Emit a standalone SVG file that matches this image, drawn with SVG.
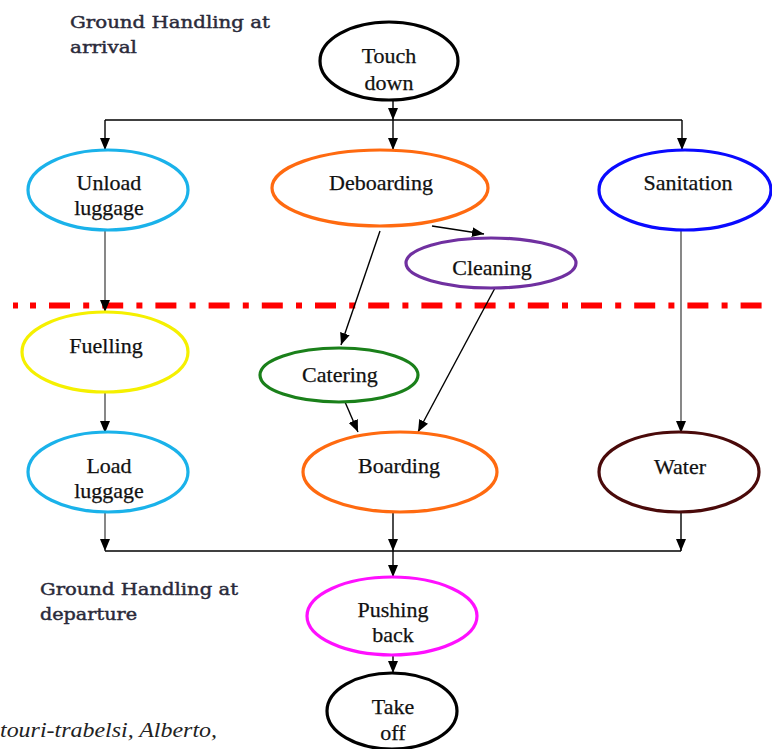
<svg xmlns="http://www.w3.org/2000/svg" width="772" height="749" viewBox="0 0 772 749">
<defs>
<marker id="ah" viewBox="0 0 12 10" refX="12" refY="5" markerWidth="12" markerHeight="10" markerUnits="userSpaceOnUse" orient="auto">
<path d="M0,0 L12,5 L0,10 z" fill="#000"/>
</marker>
<style>
.n{fill:#fff;stroke-width:3.2}
.t{font-family:"Liberation Serif","Times New Roman",serif;font-size:22px;fill:#111;stroke:#111;stroke-width:0.25;text-anchor:middle}
.lbl{font-family:"DejaVu Serif",serif;font-size:17px;fill:#2a2a3a;stroke:#2a2a3a;stroke-width:0.45}
.c{fill:none;stroke:#000;stroke-width:1.4}
.g{fill:none;stroke:#555;stroke-width:1.4}
.a{marker-end:url(#ah)}
</style>
</defs>
<rect width="772" height="749" fill="#fff"/>

<g id="labels">
<text class="lbl" x="70" y="28" textLength="200" lengthAdjust="spacingAndGlyphs">Ground Handling at</text>
<text class="lbl" x="70" y="53" textLength="67" lengthAdjust="spacingAndGlyphs">arrival</text>
<text class="lbl" x="40" y="595" textLength="198" lengthAdjust="spacingAndGlyphs">Ground Handling at</text>
<text class="lbl" x="40" y="620" textLength="97" lengthAdjust="spacingAndGlyphs">departure</text>
<text x="0" y="737" font-family="Liberation Serif, serif" font-style="italic" font-size="22" fill="#222" textLength="217" lengthAdjust="spacingAndGlyphs">touri-trabelsi, Alberto,</text>
</g>

<g id="separator">
<line x1="13" y1="305.5" x2="18" y2="305.5" stroke="#f00" stroke-width="6"/>
<line x1="30" y1="305.5" x2="772" y2="305.5" stroke="#f00" stroke-width="6" stroke-dasharray="6 13 21 13.2"/>
</g>

<g id="connectors">
<path class="c a" d="M393,100 V120"/>
<path class="c" d="M105,120 H682"/>
<path class="c a" d="M105,120 V150"/>
<path class="c a" d="M393,120 V150"/>
<path class="c a" d="M682,120 V150"/>
<path class="c a" d="M432,226 L484,234"/>
<path class="g a" d="M105,230 V312"/>
<path class="c a" d="M380,231 L341,345"/>
<path class="c a" d="M495,288 L418,432"/>
<path class="c a" d="M342,395 L358,432"/>
<path class="g a" d="M681,230 V433"/>
<path class="g a" d="M105,393 V433"/>
<path class="g a" d="M105,512 V551"/>
<path class="c a" d="M393,512 V551"/>
<path class="c a" d="M681,512 V551"/>
<path class="c" d="M105,551 H681"/>
<path class="c a" d="M393,551 V577"/>
<path class="c a" d="M393,655 V673"/>
</g>

<g id="touch-down">
<ellipse class="n" cx="389" cy="61" rx="69" ry="39" stroke="#000" stroke-width="3.6"/>
<text class="t" x="389" y="63">Touch</text>
<text class="t" x="389" y="90">down</text>
</g>
<g id="unload-luggage">
<ellipse class="n" cx="108" cy="190" rx="80" ry="40" stroke="#1ab2ea"/>
<text class="t" x="109" y="190">Unload</text>
<text class="t" x="109" y="215">luggage</text>
</g>
<g id="deboarding">
<ellipse class="n" cx="380" cy="188" rx="108" ry="38" stroke="#ff6a10"/>
<text class="t" x="381" y="190">Deboarding</text>
</g>
<g id="sanitation">
<ellipse class="n" cx="685" cy="190" rx="86" ry="40" stroke="#0a0aff"/>
<text class="t" x="688" y="190">Sanitation</text>
</g>
<g id="cleaning">
<ellipse class="n" cx="491" cy="263" rx="85" ry="25" stroke="#7030a0"/>
<text class="t" x="492" y="275">Cleaning</text>
</g>
<g id="fuelling">
<ellipse class="n" cx="105" cy="352" rx="83" ry="40" stroke="#f5f000"/>
<text class="t" x="106" y="353">Fuelling</text>
</g>
<g id="catering">
<ellipse class="n" cx="339" cy="375" rx="79" ry="27" stroke="#1a801a"/>
<text class="t" x="340" y="382">Catering</text>
</g>
<g id="load-luggage">
<ellipse class="n" cx="108" cy="472" rx="80" ry="40" stroke="#1ab2ea"/>
<text class="t" x="109" y="473">Load</text>
<text class="t" x="109" y="498">luggage</text>
</g>
<g id="boarding">
<ellipse class="n" cx="400" cy="472" rx="97" ry="40" stroke="#ff6a10"/>
<text class="t" x="399" y="473">Boarding</text>
</g>
<g id="water">
<ellipse class="n" cx="679" cy="472" rx="80" ry="40" stroke="#4a0a0a"/>
<text class="t" x="680" y="474">Water</text>
</g>
<g id="pushing-back">
<ellipse class="n" cx="392" cy="616" rx="85" ry="39" stroke="#ff10ff"/>
<text class="t" x="393" y="617">Pushing</text>
<text class="t" x="393" y="642">back</text>
</g>
<g id="take-off">
<ellipse class="n" cx="392" cy="711" rx="65" ry="38" stroke="#000" stroke-width="3.6"/>
<text class="t" x="393" y="714">Take</text>
<text class="t" x="393" y="740">off</text>
</g>
</svg>
